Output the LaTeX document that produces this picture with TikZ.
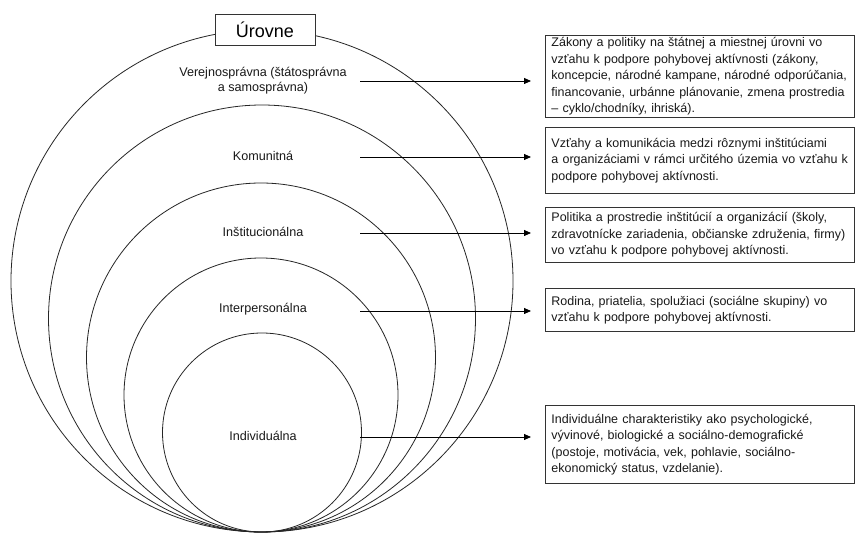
\documentclass[tikz,border=0pt]{standalone}
\usepackage{fontspec}
\setmainfont{Liberation Sans}
\usetikzlibrary{arrows.meta}
\tikzset{
  ring/.style={circle, draw=black!85, line width=0.8pt, inner sep=0pt},
  lvl/.style={font=\fontsize{12.6}{15}\selectfont, text=black!90, align=center, inner sep=0pt},
  descbox/.style={draw=black!80, line width=0.9pt, anchor=north west, text width=297pt, inner xsep=6pt, inner ysep=0pt,
    align=left, font=\fontsize{12.5}{16.5}\selectfont, text=black!90},
  conn/.style={draw=black, line width=0.8pt, -{Triangle[length=7pt,width=6pt]}, shorten >=14pt},
}
\begin{document}
\begin{tikzpicture}[x=1pt,y=-1pt]
\useasboundingbox[fill=white] (0,0) rectangle (855,534);
% rings
\node[ring, minimum size=502pt] (c1) at (262,281) {};
\node[ring, minimum size=427pt] (c2) at (262,318.5) {};
\node[ring, minimum size=349pt] (c3) at (261,357.5) {};
\node[ring, minimum size=274pt] (c4) at (261,395) {};
\node[ring, minimum size=199pt] (c5) at (262,432.5) {};
% title
\node[draw=black!80, fill=white, line width=0.9pt, minimum width=100pt, minimum height=31pt, inner sep=0pt,
  font=\fontsize{18}{20}\selectfont] (title) at (265,29.5) {Úrovne};
% level labels
\node[lvl] (l1) at (263,81) {Verejnosprávna (štátosprávna\\a samosprávna)};
\node[lvl] (l2) at (263,155.5) {Komunitná};
\node[lvl] (l3) at (263,231.5) {Inštitucionálna};
\node[lvl] (l4) at (263,309.5) {Interpersonálna};
\node[lvl] (l5) at (263,435.5) {Individuálna};
% description boxes
\node[descbox, minimum height=82pt] (b1) at (545,35) {Zákony a politiky na štátnej a miestnej úrovni vo\\vzťahu k podpore pohybovej aktívnosti (zákony,\\koncepcie, národné kampane, národné odporúčania,\\financovanie, urbánne plánovanie, zmena prostredia\\– cyklo/chodníky, ihriská).};
\node[descbox, minimum height=66pt] (b2) at (545,127) {Vzťahy a komunikácia medzi rôznymi inštitúciami\\a organizáciami v rámci určitého územia vo vzťahu k\\podpore pohybovej aktívnosti.};
\node[descbox, minimum height=55pt] (b3) at (545,207) {Politika a prostredie inštitúcií a organizácií (školy,\\zdravotnícke zariadenia, občianske združenia, firmy)\\vo vzťahu k podpore pohybovej aktívnosti.};
\node[descbox, minimum height=43pt] (b4) at (545,288) {Rodina, priatelia, spolužiaci (sociálne skupiny) vo\\vzťahu k podpore pohybovej aktívnosti.};
\node[descbox, minimum height=78pt] (b5) at (545,405) {Individuálne charakteristiky ako psychologické,\\vývinové, biologické a sociálno-demografické\\(postoje, motivácia, vek, pohlavie, sociálno-\\ekonomický status, vzdelanie).};
% connector starts
\coordinate (s1) at (360,81);
\coordinate (s2) at (360,157);
\coordinate (s3) at (360,233);
\coordinate (s4) at (360,311);
\coordinate (s5) at (360,437);
\draw[conn] (s1) -- (s1 -| b1.west);
\draw[conn] (s2) -- (s2 -| b2.west);
\draw[conn] (s3) -- (s3 -| b3.west);
\draw[conn] (s4) -- (s4 -| b4.west);
\draw[conn] (s5) -- (s5 -| b5.west);
\end{tikzpicture}
\end{document}
